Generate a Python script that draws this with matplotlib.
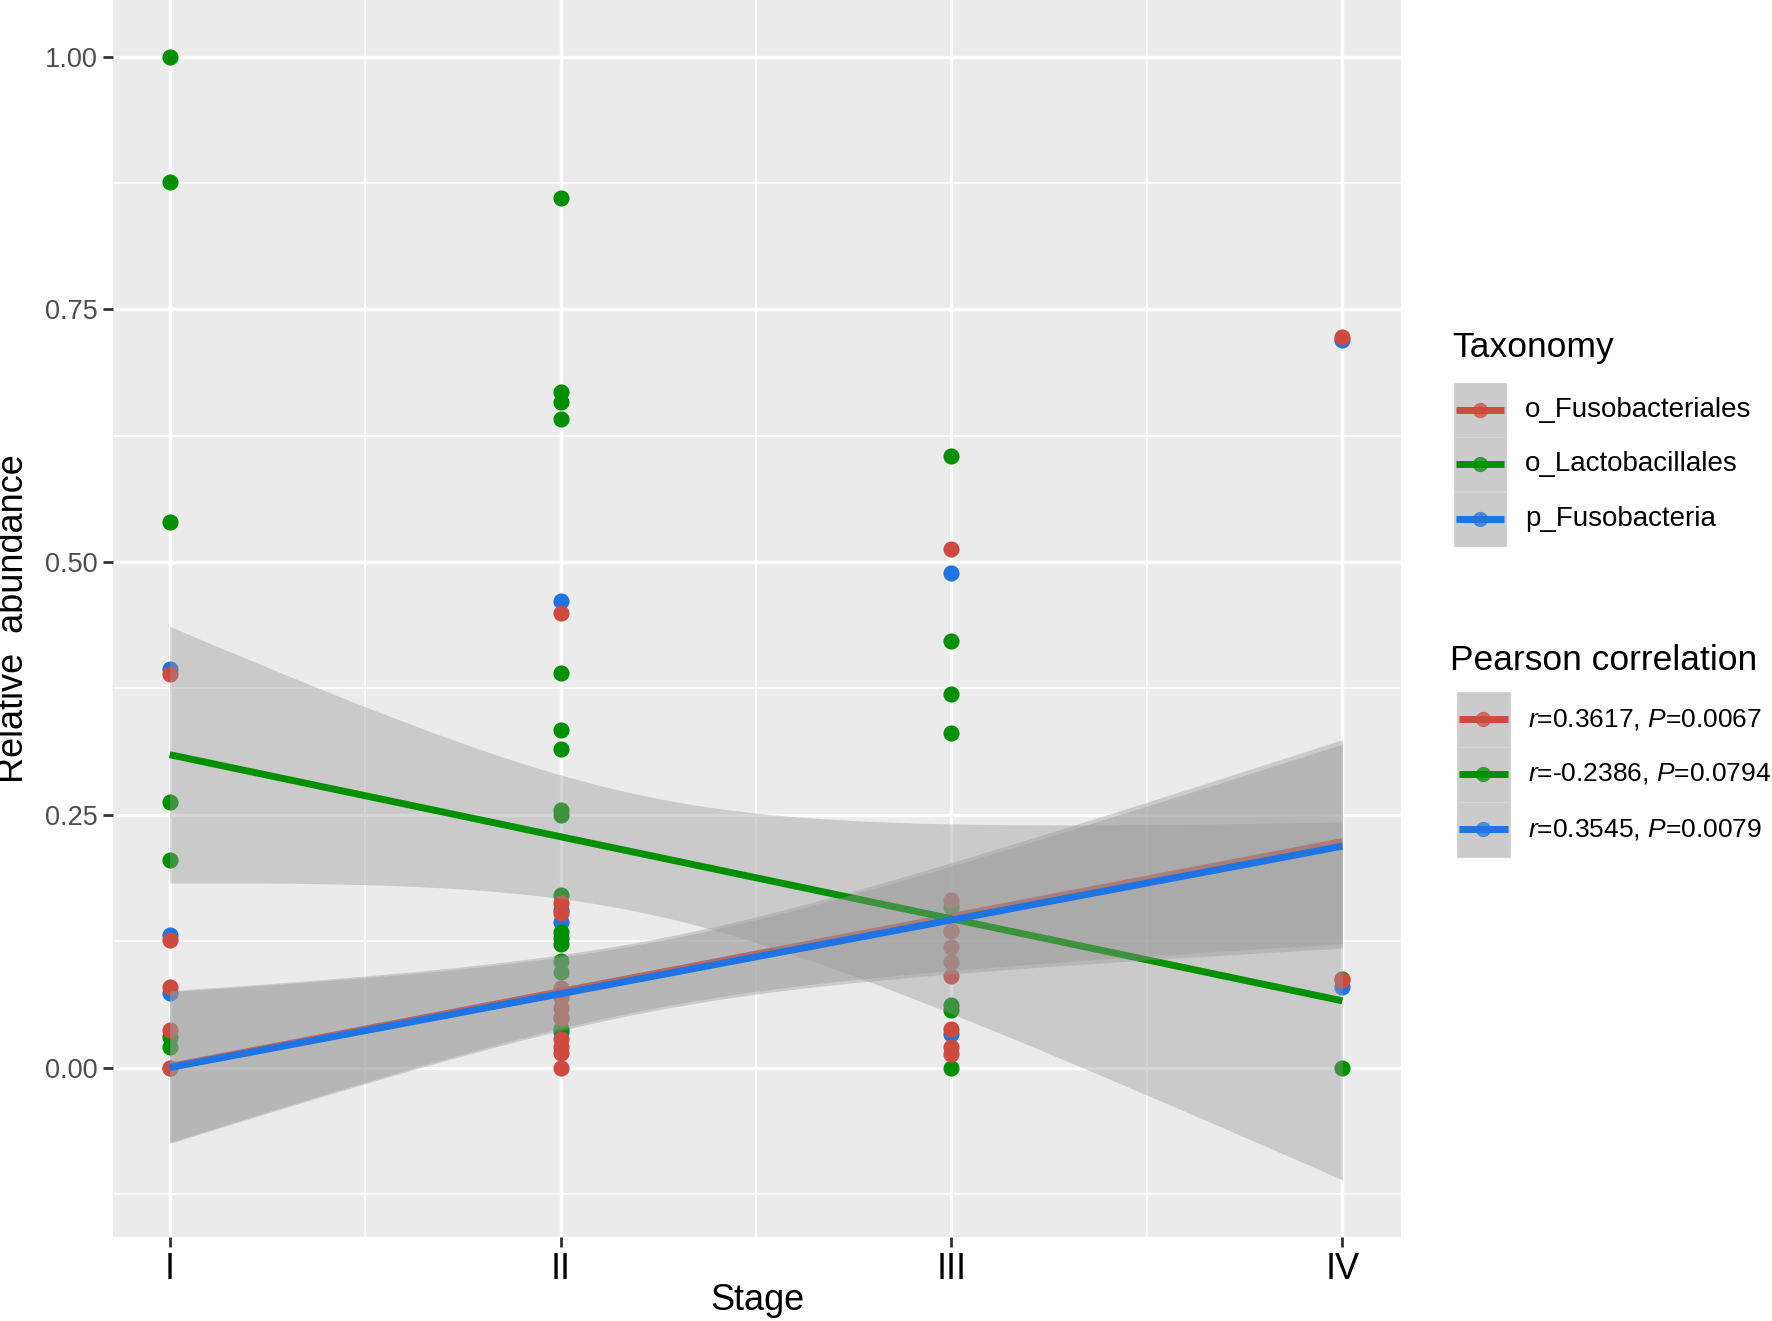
import numpy as np
import matplotlib.pyplot as plt
from matplotlib.patches import Rectangle
from matplotlib.lines import Line2D

plt.rcParams['font.family'] = ['Liberation Sans', 'DejaVu Sans']
plt.rcParams['mathtext.fontset'] = 'custom'
plt.rcParams['mathtext.rm'] = 'Liberation Sans'
plt.rcParams['mathtext.it'] = 'Liberation Sans:italic'

# stages on the x axis
stage_labels = ['I', 'II', 'III', 'IV']
stage_pos = [1, 2, 3, 4]

taxa = ['o_Fusobacteriales', 'o_Lactobacillales', 'p_Fusobacteria']
taxa_colors = ['#CF4A3E', '#009000', '#1E74E2']
corr_labels = ['$\\it{r}$=0.3617, $\\it{P}$=0.0067',
               '$\\it{r}$=-0.2386, $\\it{P}$=0.0794',
               '$\\it{r}$=0.3545, $\\it{P}$=0.0079']

# relative abundance per stage
fuso_order = {
    1: [0.389, 0.126, 0.080, 0.037, 0.0],
    2: [0.450, 0.163, 0.153, 0.079, 0.069, 0.059, 0.049, 0.028, 0.020, 0.014, 0.0],
    3: [0.513, 0.166, 0.135, 0.119, 0.104, 0.091, 0.038, 0.020, 0.013],
    4: [0.723, 0.0864],
}
lacto_order = {
    1: [1.0, 0.876, 0.540, 0.263, 0.2055, 0.0305, 0.020],
    2: [0.860, 0.668, 0.658, 0.642, 0.390, 0.334, 0.315, 0.255, 0.250, 0.171,
        0.134, 0.128, 0.122, 0.105, 0.095, 0.038],
    3: [0.605, 0.422, 0.370, 0.331, 0.159, 0.062, 0.057, 0.0],
    4: [0.088, 0.0],
}
fuso_phylum = {
    1: [0.394, 0.131, 0.074, 0.0],
    2: [0.462, 0.156, 0.144, 0.050, 0.035],
    3: [0.489, 0.135, 0.033],
    4: [0.720, 0.080],
}
taxa_points = [fuso_order, lacto_order, fuso_phylum]

# linear fit at stage I and stage IV, and CI half width at each stage
fit_start = [0.001, 0.3095, 0.0]
fit_end = [0.2235, 0.066, 0.219]
ci_half = [
    [0.075, 0.037, 0.053, 0.101],
    [0.127, 0.061, 0.094, 0.177],
    [0.075, 0.037, 0.053, 0.101],
]

W, H = 1772, 1321
fig = plt.figure(figsize=(W / 100, H / 100), dpi=100)
ax = fig.add_axes([113 / W, 1 - 1237 / H, (1401 - 113) / W, 1237 / H])
ax.set_facecolor('#EBEBEB')
for s in ax.spines.values():
    s.set_visible(False)

# points: blue first, then green, red on top
for i in [2, 1, 0]:
    for st, vals in taxa_points[i].items():
        ax.scatter([st] * len(vals), vals, s=135, color=taxa_colors[i],
                   linewidths=0, zorder=2)

# smooth: ribbon then line per group
xs = np.linspace(1, 4, 200)
for i in range(3):
    coef = np.polyfit(stage_pos, np.array(ci_half[i]) ** 2, 2)
    hw = np.sqrt(np.clip(np.polyval(coef, xs), 0, None))
    yfit = fit_start[i] + (fit_end[i] - fit_start[i]) * (xs - 1) / 3
    ax.fill_between(xs, yfit - hw, yfit + hw, color='#999999', alpha=0.4,
                    linewidth=0, zorder=3 + i * 2)
    ax.plot(xs, yfit, color=taxa_colors[i], lw=5, solid_capstyle='butt',
            zorder=4 + i * 2)

ax.set_xlim(0.855, 4.15)
ax.set_ylim(-0.1676, 1.056)
ax.set_xticks(stage_pos)
ax.set_xticklabels(stage_labels, fontsize=26, color='black')
ax.set_xticks([1.5, 2.5, 3.5], minor=True)
ax.set_yticks([0, 0.25, 0.5, 0.75, 1.0])
ax.set_yticklabels(['0.00', '0.25', '0.50', '0.75', '1.00'], fontsize=19.5,
                   color='#4D4D4D')
ax.set_yticks([-0.125, 0.125, 0.375, 0.625, 0.875], minor=True)
ax.grid(which='major', color='white', lw=2.4, zorder=0)
ax.grid(which='minor', color='white', lw=1.2, zorder=0)
ax.set_axisbelow(True)
ax.tick_params(which='major', length=7, width=2, color='#333333', pad=4)
ax.tick_params(which='minor', length=0)
ax.set_xlabel('Stage', fontsize=26)
ax.xaxis.set_label_coords(0.5, (1237 - 1300) / 1237)
ax.xaxis.label.set_va('center')
ax.set_ylabel('Relative  abundance', fontsize=26)
ax.yaxis.set_label_coords((14 - 113) / (1401 - 113), 0.5)
ax.yaxis.label.set_va('center')

# legends drawn by hand in pixel coords
lax = fig.add_axes([0, 0, 1, 1])
lax.set_xlim(0, W)
lax.set_ylim(H, 0)
lax.axis('off')


def draw_legend(title, title_x, title_y, box_x, box_w, centers, labels,
                label_x, label_size):
    lax.text(title_x, title_y, title, fontsize=25.5, va='center', ha='left')
    kh = centers[1] - centers[0]
    for c, lab, col in zip(centers, labels, taxa_colors):
        lax.add_patch(Rectangle((box_x, c - kh / 2), box_w, kh,
                                facecolor='#CBCBCB', edgecolor='#D4D4D4', lw=0.8))
        lax.add_line(Line2D([box_x + 2, box_x + box_w - 2], [c, c], color=col,
                            lw=5, solid_capstyle='butt'))
        lax.plot(box_x + box_w / 2, c, 'o', ms=11, color=col, mew=0, alpha=0.75)
        lax.text(label_x, c, lab, fontsize=label_size, va='center', ha='left')


draw_legend('Taxonomy', 1452, 348, 1454, 52, [410, 464, 519], taxa, 1525, 20)
draw_legend('Pearson correlation', 1450, 661, 1457, 53, [719, 774, 829],
            corr_labels, 1528, 19)

fig.savefig('out.png', dpi=100, facecolor='white')
